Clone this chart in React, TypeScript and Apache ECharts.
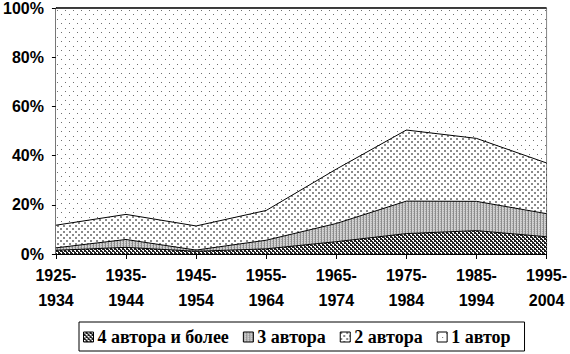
import React, { useEffect, useRef } from "react";
import * as echarts from "echarts";

const categories = ["1925-\n1934", "1935-\n1944", "1945-\n1954", "1955-\n1964", "1965-\n1974", "1975-\n1984", "1985-\n1994", "1995-\n2004"];
const seriesNames = ["4 автора и более", "3 автора", "2 автора", "1 автор"];
const authors4plus = [1.5, 2.7, 1.1, 2.1, 5.0, 8.3, 9.5, 7.0];
const authors3 = [1.0, 3.2, 0.5, 3.5, 7.4, 13.2, 11.9, 9.4];
const authors2 = [9.2, 10.2, 9.8, 12.1, 22.1, 28.9, 25.6, 20.6];
const authors1 = [88.3, 83.9, 88.6, 82.3, 65.5, 49.6, 53.0, 63.0];
const yTicks = [0, 20, 40, 60, 80, 100];

type Painter = (ctx: CanvasRenderingContext2D) => void;

function makePattern(w: number, h: number, paint: Painter) {
  const c = document.createElement("canvas");
  c.width = w;
  c.height = h;
  const ctx = c.getContext("2d")!;
  paint(ctx);
  return { image: c, repeat: "repeat", imageWidth: w, imageHeight: h } as any;
}

export default function App() {
  const ref = useRef<HTMLDivElement>(null);
  useEffect(() => {
    if (!ref.current) return;
    const chart = echarts.init(ref.current, null, { renderer: "svg" });

    const p1 = makePattern(8, 9, (ctx) => {
      ctx.fillStyle = "#fff";
      ctx.fillRect(0, 0, 8, 9);
      ctx.fillStyle = "#6f6f6f";
      ctx.fillRect(1, 1, 1, 1);
      ctx.fillRect(5, 5, 1, 1);
    });
    const p2 = makePattern(6, 6, (ctx) => {
      ctx.fillStyle = "#fff";
      ctx.fillRect(0, 0, 6, 6);
      ctx.fillStyle = "#8a8a8a";
      ctx.fillRect(0, 0, 2, 2);
      ctx.fillRect(3, 3, 2, 2);
    });
    const p3 = makePattern(3, 2, (ctx) => {
      ctx.fillStyle = "#d0d0d0";
      ctx.fillRect(0, 0, 3, 2);
      ctx.fillStyle = "#8c8c8c";
      ctx.fillRect(0, 0, 1, 2);
      ctx.fillStyle = "#adadad";
      ctx.fillRect(2, 1, 1, 1);
    });
    const p4 = makePattern(4, 4, (ctx) => {
      ctx.fillStyle = "#222";
      ctx.fillRect(0, 0, 4, 4);
      ctx.fillStyle = "#fff";
      ctx.fillRect(0, 0, 2, 1);
      ctx.fillRect(1, 1, 1, 1);
      ctx.fillRect(2, 2, 2, 1);
      ctx.fillRect(3, 3, 1, 1);
    });

    const patterns = [p4, p3, p2, p1];
    const dataSets = [authors4plus, authors3, authors2, authors1];

    const series = seriesNames.map((name, i) => ({
      name,
      type: "line",
      stack: "total",
      data: dataSets[i],
      showSymbol: false,
      symbol: "none",
      lineStyle: { color: "#000", width: i === 3 ? 1.5 : 1 },
      itemStyle: { color: patterns[i] },
      areaStyle: { color: patterns[i], opacity: 1 },
      emphasis: { disabled: true },
    }));

    chart.setOption({
      animation: false,
      backgroundColor: "#fff",
      grid: {
        left: 53,
        right: 22,
        top: 6,
        bottom: 100,
        show: true,
        borderColor: "#000",
        borderWidth: 1,
        backgroundColor: "transparent",
      },
      xAxis: {
        type: "category",
        data: categories,
        boundaryGap: false,
        axisLine: { lineStyle: { color: "#000", width: 1 } },
        axisTick: { show: true, length: 5, lineStyle: { color: "#000" } },
        axisLabel: {
          color: "#000",
          fontFamily: "Liberation Sans",
          fontWeight: "bold",
          fontSize: 16,
          lineHeight: 25,
          margin: 9,
          interval: 0,
        },
        splitLine: { show: false },
      },
      yAxis: {
        type: "value",
        min: yTicks[0],
        max: yTicks[yTicks.length - 1],
        interval: 20,
        axisLine: { show: true, lineStyle: { color: "#000", width: 1 } },
        axisTick: { show: true, length: 4, lineStyle: { color: "#000" } },
        axisLabel: {
          color: "#000",
          fontFamily: "Liberation Sans",
          fontWeight: "bold",
          fontSize: 16,
          margin: 12,
          formatter: "{value}%",
        },
        splitLine: { show: false },
      },
      legend: {
        data: seriesNames,
        left: 79,
        top: 322,
        icon: "rect",
        itemWidth: 10,
        itemHeight: 10,
        itemGap: 14,
        padding: [6, 14, 5, 4],
        borderColor: "#000",
        borderWidth: 1,
        borderRadius: 0,
        itemStyle: { borderColor: "#000", borderWidth: 1 },
        textStyle: {
          color: "#000",
          fontFamily: "'Liberation Serif', 'Times New Roman', serif",
          fontWeight: "bold",
          fontSize: 18,
          padding: [0, 0, 0, -1],
        },
        selectedMode: false,
      },
      series,
    });
    return () => chart.dispose();
  }, []);

  return <div ref={ref} style={{ width: 570, height: 354, position: "absolute", left: 0, top: 0 }} />;
}
